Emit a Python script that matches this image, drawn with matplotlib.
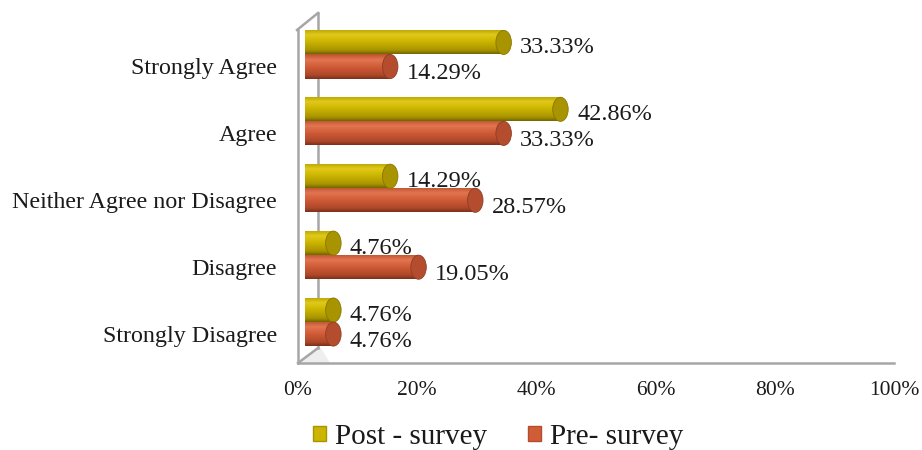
import numpy as np
import matplotlib
matplotlib.use("Agg")
import matplotlib.pyplot as plt
import matplotlib.transforms as mtransforms
from matplotlib.patches import Rectangle, Ellipse, Patch, Polygon
from matplotlib.colors import LinearSegmentedColormap

# Data (bottom to top)
categories = ["Strongly Disagree", "Disagree", "Neither Agree nor Disagree",
              "Agree", "Strongly Agree"]
post_survey = [4.76, 4.76, 14.29, 42.86, 33.33]
pre_survey = [4.76, 19.05, 28.57, 33.33, 14.29]
series_names = ["Post - survey", "Pre- survey"]
x_ticks = [0, 20, 40, 60, 80, 100]

plt.rcParams['font.family'] = ['Liberation Serif', 'DejaVu Serif']

# cylinder shading, top -> bottom
yellow_grad = [(0.0, (0.72, 0.64, 0.0)), (0.22, (0.88, 0.79, 0.10)),
               (0.5, (0.80, 0.71, 0.0)), (0.85, (0.66, 0.58, 0.0)),
               (1.0, (0.45, 0.40, 0.0))]
red_grad = [(0.0, (0.74, 0.32, 0.18)), (0.22, (0.89, 0.46, 0.32)),
            (0.5, (0.82, 0.36, 0.22)), (0.85, (0.68, 0.28, 0.16)),
            (1.0, (0.48, 0.19, 0.11))]
yellow_cap = (0.66, 0.58, 0.0)
red_cap = (0.70, 0.30, 0.18)
yellow_main = (0.80, 0.71, 0.0)
red_main = (0.82, 0.36, 0.22)
wall_color = "#a6a6a6"
text_color = "#1a1a1a"

W, H = 922, 450
fig = plt.figure(figsize=(W / 100, H / 100), dpi=100)
ax = fig.add_axes([298 / W, 87 / H, 596 / W, 333 / H])
ax.patch.set_visible(False)

# bars sit behind the front edge (3D depth offset: right and up)
bar_tr = mtransforms.offset_copy(ax.transData, fig=fig, x=7, y=12, units='dots')

bar_h = 0.36
cap_w = 2.6


def cylinder(y, val, grad, cap_color):
    cmap = LinearSegmentedColormap.from_list("c", grad)
    gradient = np.linspace(0, 1, 64).reshape(-1, 1)
    rect = Rectangle((0, y - bar_h / 2), val, bar_h, transform=bar_tr,
                     facecolor="none", edgecolor="none")
    ax.add_patch(rect)
    im = ax.imshow(gradient, cmap=cmap, aspect='auto', origin='upper',
                   extent=[0, val, y - bar_h / 2, y + bar_h / 2],
                   transform=bar_tr, zorder=3, interpolation='bilinear')
    im.set_clip_path(rect)
    cap = Ellipse((val, y), cap_w, bar_h, transform=bar_tr,
                  facecolor=cap_color, edgecolor=tuple(c * 0.8 for c in cap_color),
                  linewidth=0.6, zorder=4)
    ax.add_patch(cap)


for i in range(len(categories)):
    cylinder(i + bar_h / 2, post_survey[i], yellow_grad, yellow_cap)
    cylinder(i - bar_h / 2, pre_survey[i], red_grad, red_cap)
    ax.annotate(f"{post_survey[i]:.2f}%", xy=(post_survey[i], i + bar_h / 2),
                xytext=(17, 5.0), textcoords='offset points',
                ha='left', va='center', fontsize=17.5, color=text_color, zorder=5)
    ax.annotate(f"{pre_survey[i]:.2f}%", xy=(pre_survey[i], i - bar_h / 2),
                xytext=(17, 3.6), textcoords='offset points',
                ha='left', va='center', fontsize=17.5, color=text_color, zorder=5)

ax.set_xlim(0, 100)
ax.set_ylim(-0.433, 4.545)

# 3D wall lines (axes coords)
bx = 20 / 596
ax.plot([bx, bx], [1.051, 0.045], transform=ax.transAxes, color=wall_color,
        lw=1.8, clip_on=False, zorder=1)
ax.plot([-0.0017, bx], [1.0, 1.051], transform=ax.transAxes, color=wall_color,
        lw=1.8, clip_on=False, zorder=1)
ax.plot([0, bx], [0, 0.045], transform=ax.transAxes, color=wall_color,
        lw=1.8, clip_on=False, zorder=1)
ax.add_patch(Polygon([[0, 0], [bx, 0.045], [bx + 0.005, 0.045], [bx + 0.02, 0]],
                     closed=True, transform=ax.transAxes, facecolor="#eeeeee",
                     edgecolor="none", zorder=0.5))

for s in ["top", "right"]:
    ax.spines[s].set_visible(False)
for s in ["left", "bottom"]:
    ax.spines[s].set_color(wall_color)
    ax.spines[s].set_linewidth(1.8)

ax.set_xticks(x_ticks)
ax.set_xticklabels([f"{t}%" for t in x_ticks], fontsize=15.5, color=text_color)
ax.set_yticks(range(len(categories)))
ax.set_yticklabels(categories, fontsize=17.3, color=text_color)
ax.tick_params(axis='x', length=0, pad=13)
ax.tick_params(axis='y', length=0, pad=15)

handles = [Patch(facecolor=yellow_main, edgecolor=yellow_cap, label=series_names[0]),
           Patch(facecolor=red_main, edgecolor=red_cap, label=series_names[1])]
fig.legend(handles=handles, loc='center', bbox_to_anchor=(498 / W, 1 - 437 / H),
           ncol=2, frameon=False, fontsize=21, handlelength=0.45,
           handleheight=0.45, handletextpad=0.3, columnspacing=1.4,
           labelcolor=text_color)

fig.savefig("out.png", dpi=100)
